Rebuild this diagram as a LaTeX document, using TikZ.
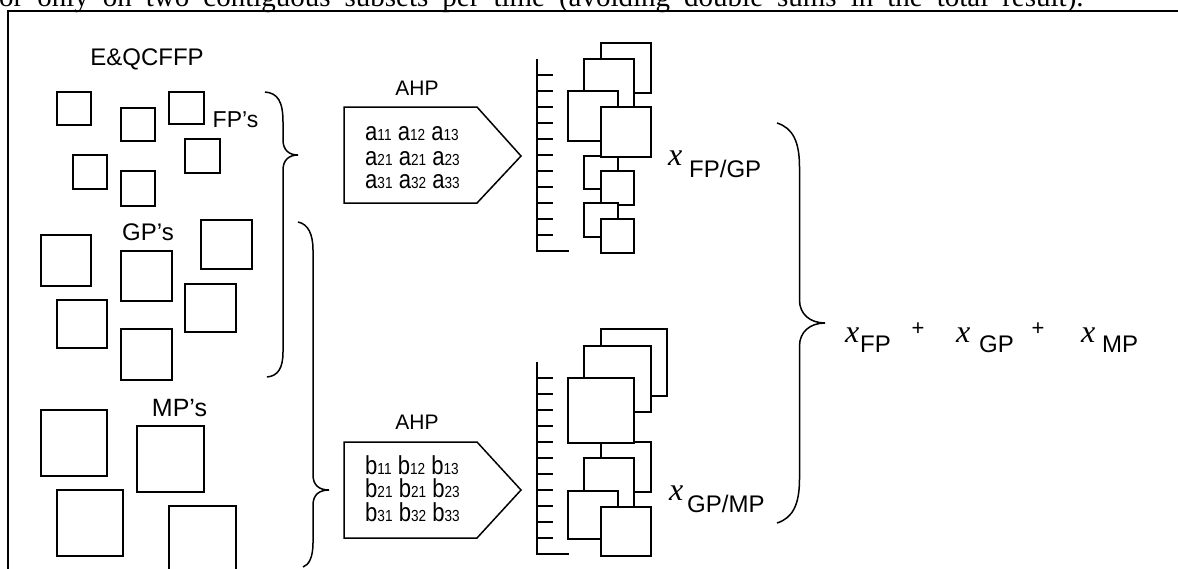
\documentclass[tikz,border=0pt]{standalone}
\usepackage{fontspec}
\setmainfont{Liberation Sans}
\newfontfamily\tnr{Liberation Serif}
\newcommand\myx{{\tnr\itshape\fontsize{32}{32}\selectfont x}}
\newcommand\dg[1]{{\fontsize{16}{16}\selectfont #1}}
\begin{document}
\begin{tikzpicture}[x=1pt,y=-1pt,
  sq/.style={draw=black,fill=white,line width=1.5pt},
  frameline/.style={line width=2pt,line cap=rect},
  brace/.style={line width=1.5pt},
  lbl/.style={anchor=base,inner sep=0pt,font=\fontsize{24}{24}\selectfont},
  ahp/.style={anchor=base,inner sep=0pt,font=\fontsize{21}{21}\selectfont},
  row/.style={anchor=base west,inner sep=0pt,text height=14pt,text depth=0pt,font=\fontsize{26}{26}\selectfont},
  xn/.style={anchor=base west,inner sep=0pt},
  sub/.style={anchor=base west,inner sep=0pt,font=\fontsize{24}{24}\selectfont},
  plus/.style={anchor=center,inner sep=0pt,font=\fontsize{22}{22}\selectfont}]
\useasboundingbox (0,0) rectangle (1178,568);
\clip (0,0) rectangle (1178,568);
% clipped line of text above the frame
\node[anchor=base west,inner sep=0pt,font={\tnr\fontsize{29}{29}\selectfont\spaceskip=14pt\relax}] (toptext) at (-1,6)
  {or only on two contiguous subsets per time (avoiding double sums in the total result).};
% frame
\draw[frameline] (8.3,580) -- (8.3,11) -- (1190,11);
% labels
\node[lbl] (eq) at (147,65) {E\&QCFFP};
\node[lbl,font=\fontsize{23}{23}\selectfont] (fp) at (235.5,127) {FP’s};
\node[lbl] (gp) at (148,240) {GP’s};
\node[lbl,font=\fontsize{25}{25}\selectfont] (mp) at (179.5,416) {MP’s};
% FP squares
\foreach \a/\b/\c/\d in {57/92/91/125,121/108/155/141,169/92/204/124,185/139/220/173,73/155/107/189,121/171/155/206}
  \draw[sq] (\a,\b) rectangle (\c,\d);
% GP squares
\foreach \a/\b/\c/\d in {41/235/91/286,121/251/172/301,201/220/252/269,185/284/236/332,57/300/107/348,121/329/172/380}
  \draw[sq] (\a,\b) rectangle (\c,\d);
% MP squares
\foreach \a/\b/\c/\d in {41/410/107/476,137/426/204/492,57/490/123/556,169/506/236/575}
  \draw[sq] (\a,\b) rectangle (\c,\d);
% braces
\draw[brace] (265,92) .. controls (278,93) and (283,102) .. (283,122) -- (283,140)
  .. controls (283,150) and (289,155) .. (298,155)
  .. controls (289,155) and (283,160) .. (283,170) -- (283,352)
  .. controls (283,368) and (278,376) .. (267,377);
\draw[brace] (298,222) .. controls (308,224) and (313,234) .. (313,250) -- (313,475)
  .. controls (313,485) and (319,490) .. (329,490)
  .. controls (319,490) and (313,495) .. (313,505) -- (313,543)
  .. controls (313,557) and (309,565) .. (303,567);
\draw[brace] (777,123) .. controls (793,128) and (799.5,142) .. (799.5,167) -- (799.5,300)
  .. controls (799.5,314) and (810,323) .. (825,323)
  .. controls (810,323) and (799.5,332) .. (799.5,346) -- (799.5,479)
  .. controls (799.5,504) and (793,518) .. (777,523);
% AHP blocks
\node[ahp] (ahp1) at (417,95) {AHP};
\draw[sq] (344,107) -- (477,107) -- (521,156) -- (477,203) -- (344,203) -- cycle;
\node[row] (a1) at (365,140) {\scalebox{0.85}[1]{a\dg{11} a\dg{12} a\dg{13}}};
\node[row] (a2) at (365,165) {\scalebox{0.85}[1]{a\dg{21} a\dg{21} a\dg{23}}};
\node[row] (a3) at (365,188) {\scalebox{0.85}[1]{a\dg{31} a\dg{32} a\dg{33}}};
\node[ahp] (ahp2) at (417,429) {AHP};
\draw[sq] (344,442) -- (477,442) -- (521,490) -- (477,538) -- (344,538) -- cycle;
\node[row,text height=19pt] (b1) at (365,474) {\scalebox{0.85}[1]{b\dg{11} b\dg{12} b\dg{13}}};
\node[row,text height=19pt] (b2) at (365,497) {\scalebox{0.85}[1]{b\dg{21} b\dg{21} b\dg{23}}};
\node[row,text height=19pt] (b3) at (365,521) {\scalebox{0.85}[1]{b\dg{31} b\dg{32} b\dg{33}}};
% rulers
\draw[line width=1.5pt] (537,59) -- (537,251) -- (569,251);
\foreach \y in {75,91,...,235} \draw[line width=1.5pt] (537,\y) -- (553,\y);
\draw[line width=1.5pt] (537,362) -- (537,554) -- (569,554);
\foreach \y in {378,394,...,538} \draw[line width=1.5pt] (537,\y) -- (553,\y);
% top stack
\foreach \a/\b/\c/\d in {601/43/651/93,584/59/634/107,568/91/618/141,584/156/618/189,601/107/651/157,601/171/634/205,584/203/618/237,601/219/634/253}
  \draw[sq] (\a,\b) rectangle (\c,\d);
% bottom stack
\foreach \a/\b/\c/\d in {601/329/667/396,584/346/651/412,601/442/651/492,568/378/634/443,584/458/634/507,568/491/618/539,601/507/651/556}
  \draw[sq] (\a,\b) rectangle (\c,\d);
% x labels
\node[xn] (x1) at (668,165) {\myx};
\node[sub] (x1s) at (689,177) {FP/GP};
\node[xn] (x2) at (669,500) {\myx};
\node[sub] (x2s) at (687,512) {GP/MP};
% total
\node[xn] (xf) at (845,342) {\myx};
\node[sub] (xfs) at (860,352) {FP};
\node[plus] (p1) at (918,329) {+};
\node[xn] (xg) at (956,342) {\myx};
\node[sub] (xgs) at (979,352) {GP};
\node[plus] (p2) at (1038,329) {+};
\node[xn] (xm) at (1081,342) {\myx};
\node[sub] (xms) at (1102,352) {MP};
\end{tikzpicture}
\end{document}
